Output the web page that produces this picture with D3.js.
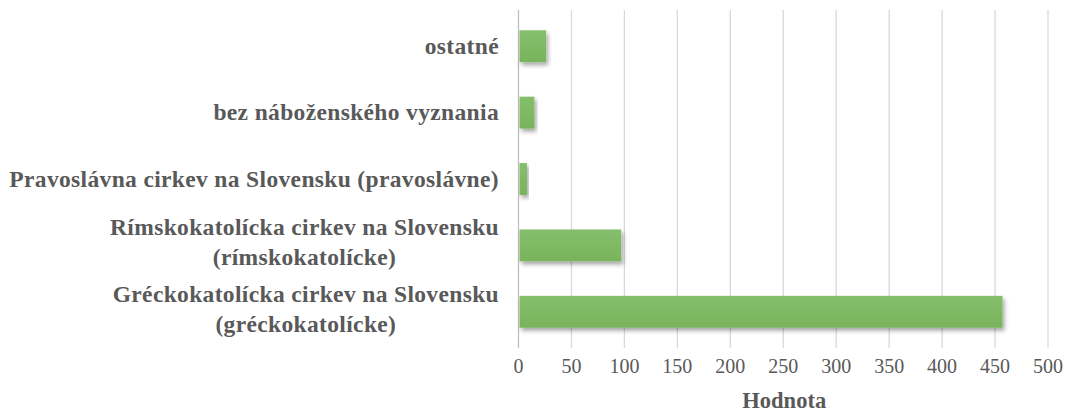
<!DOCTYPE html>
<html>
<head>
<meta charset="utf-8">
<script src="https://cdn.jsdelivr.net/npm/d3@7"></script>
<style>
  body { margin: 0; background: #fff; }
</style>
</head>
<body>
<div id="chart"></div>
<script>
// Data (top to bottom)
var categories = [
  "ostatné",
  "bez náboženského vyznania",
  "Pravoslávna cirkev na Slovensku (pravoslávne)",
  "Rímskokatolícka cirkev na Slovensku|(rímskokatolícke)",
  "Gréckokatolícka cirkev na Slovensku|(gréckokatolícke)"
];
var values = [26, 15, 8, 97, 457];
var xTicks = [0, 50, 100, 150, 200, 250, 300, 350, 400, 450, 500];
var xTitle = "Hodnota";

var width = 1066, height = 412;
var font = "Liberation Serif, Times New Roman, serif";

var svg = d3.select("#chart")
  .append("svg")
  .attr("width", width)
  .attr("height", height);

// soft drop shadow + slight vertical gradient like the office chart
var defs = svg.append("defs");
var f = defs.append("filter").attr("id", "shadow")
  .attr("x", "-10%").attr("y", "-30%").attr("width", "130%").attr("height", "190%");
f.append("feDropShadow")
  .attr("dx", 2).attr("dy", 3)
  .attr("stdDeviation", 2.2)
  .attr("flood-color", "#000")
  .attr("flood-opacity", 0.35);

var grad = defs.append("linearGradient").attr("id", "barGrad")
  .attr("x1", 0).attr("y1", 0).attr("x2", 0).attr("y2", 1);
grad.append("stop").attr("offset", "0%").attr("stop-color", "#86bf6c");
grad.append("stop").attr("offset", "100%").attr("stop-color", "#78b45b");

var x = d3.scaleLinear()
  .domain([0, 500])
  .range([518.5, 1048]);

var y = d3.scaleBand()
  .domain(categories)
  .range([13, 345])
  .paddingInner(0.52)
  .paddingOuter(0.26);

// gridlines
svg.append("g")
  .selectAll("line")
  .data(xTicks)
  .enter()
  .append("line")
  .attr("x1", function(d) { return x(d); })
  .attr("x2", function(d) { return x(d); })
  .attr("y1", 10)
  .attr("y2", 348)
  .attr("stroke", function(d) { return d == 0 ? "#bfbfbf" : "#d9d9d9"; })
  .attr("stroke-width", 1.3);

// bars
svg.append("g")
  .selectAll("rect")
  .data(values)
  .enter()
  .append("rect")
  .attr("x", x(0) + 1)
  .attr("y", function(d, i) { return y(categories[i]); })
  .attr("width", function(d) { return x(d) - x(0) - 1; })
  .attr("height", y.bandwidth())
  .attr("fill", "url(#barGrad)")
  .attr("filter", "url(#shadow)");

// category labels (multi-line ones centered on each other, block right-aligned)
var labels = svg.append("g");
categories.forEach(function(c) {
  var lines = c.split("|");
  var cy = y(c) + y.bandwidth() / 2;
  var lh = 30;
  var t = labels.append("text")
    .attr("font-family", font)
    .attr("fill", "#595959")
    .attr("font-weight", "bold")
    .attr("font-size", "23.5px")
    .attr("letter-spacing", "0.35px");
  lines.forEach(function(l, k) {
    t.append("tspan")
      .attr("y", cy + (k - (lines.length - 1) / 2) * lh + (lines.length > 1 ? 5 : 7.5))
      .text(l);
  });
  var spans = t.selectAll("tspan").nodes();
  var maxW = d3.max(spans, function(s) { return s.getComputedTextLength(); });
  var right = 499;
  t.selectAll("tspan")
    .attr("x", right - maxW / 2)
    .attr("text-anchor", "middle");
});

// tick labels
svg.append("g")
  .selectAll("text")
  .data(xTicks)
  .enter()
  .append("text")
  .attr("font-family", font)
  .attr("x", function(d) { return x(d); })
  .attr("y", 373)
  .attr("text-anchor", "middle")
  .attr("fill", "#595959")
  .attr("font-size", "20px")
  .text(function(d) { return d; });

// axis title
svg.append("text")
  .attr("font-family", font)
  .attr("x", x(250) + 1)
  .attr("y", 408)
  .attr("text-anchor", "middle")
  .attr("fill", "#595959")
  .attr("font-weight", "bold")
  .attr("font-size", "22.5px")
  .text(xTitle);
</script>
</body>
</html>
